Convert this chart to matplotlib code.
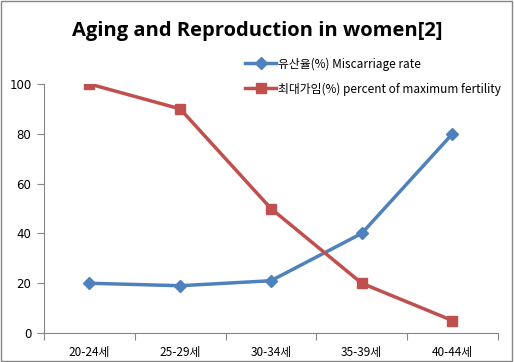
import numpy as np
import matplotlib.pyplot as plt
from matplotlib.patches import Rectangle

plt.rcParams['font.family'] = ['Noto Sans CJK KR', 'DejaVu Sans']

# data
ages = ['20-24세', '25-29세', '30-34세', '35-39세', '40-44세']
miscarriage = [20, 19, 21, 40, 80]
fertility = [100, 90, 50, 20, 5]
yticks = [0, 20, 40, 60, 80, 100]

blue = '#4F81BD'
red = '#C0504D'

fig = plt.figure(figsize=(5.14, 3.62), dpi=100)
ax = fig.add_axes([0.0856, 0.080, 0.883, 0.688])

x = np.arange(len(ages))
ax.plot(x, miscarriage, color=blue, lw=2.5, marker='D', ms=6,
        label='유산율(%) Miscarriage rate')
ax.plot(x, fertility, color=red, lw=2.5, marker='s', ms=7,
        label='최대가임(%) percent of maximum fertility')

ax.set_xlim(-0.5, len(ages) - 0.5)
ax.set_ylim(0, 100)
ax.set_yticks(yticks)
ax.set_yticklabels([str(v) for v in yticks], fontsize=8.5, family='DejaVu Sans')
ax.set_xticks(np.arange(-0.5, len(ages), 1.0))
ax.set_xticklabels([])
ax.set_xticks(x, minor=True)
ax.set_xticklabels(ages, minor=True, fontsize=8.5)
ax.tick_params(axis='x', which='major', length=5, color='#868686')
ax.tick_params(axis='x', which='minor', length=0, pad=9)
ax.tick_params(axis='y', length=5, color='#868686', pad=4)

for s in ['top', 'right']:
    ax.spines[s].set_visible(False)
for s in ['left', 'bottom']:
    ax.spines[s].set_color('#868686')

leg = ax.legend(loc='upper left', bbox_to_anchor=(0.42, 1.15), frameon=False,
                fontsize=8.5, handlelength=2.6, labelspacing=1.0, handletextpad=0.2)

fig.text(0.5, 0.915, 'Aging and Reproduction in women[2]', ha='center', va='center',
         fontsize=14.5, fontweight='bold', family='Open Sans')

fig.patches.append(Rectangle((0.002, 0.003), 0.995, 0.994, transform=fig.transFigure,
                             fill=False, edgecolor='#868686', lw=1))

fig.savefig('out.png', dpi=100)
